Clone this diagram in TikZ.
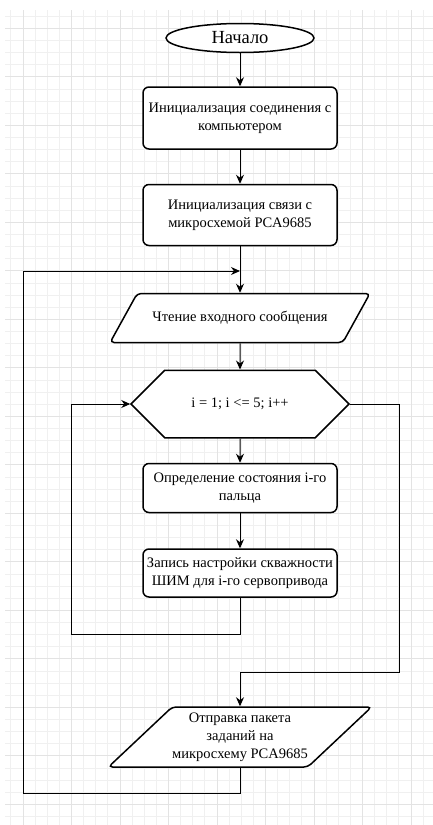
\documentclass[tikz,border=0pt]{standalone}
\usepackage{fontspec}
\setmainfont{Liberation Serif}
\usetikzlibrary{arrows.meta,shapes.geometric,shapes.misc,backgrounds}

\begin{document}
\begin{tikzpicture}[x=1pt,y=-1pt,
  box/.style={draw,line width=1.5pt,rounded corners=6pt,align=center,
              minimum width=194pt,inner xsep=2pt,font=\fontsize{14.5}{18}\selectfont,fill=white},
  io/.style={draw,line width=1.5pt,rounded corners=4pt,align=center,
             trapezium,trapezium left angle=41,trapezium right angle=139,
             trapezium stretches=true,minimum width=260pt,inner xsep=0pt,
             font=\fontsize{14.5}{18}\selectfont,fill=white},
  loopbox/.style={draw,line width=1.5pt,chamfered rectangle,
                  chamfered rectangle xsep=20pt,chamfered rectangle ysep=24.5pt,
                  minimum width=218pt,minimum height=49pt,
                  font=\fontsize{14.5}{18}\selectfont,fill=white},
  term/.style={draw,line width=1.5pt,ellipse,minimum width=148pt,minimum height=29pt,
               inner sep=0pt,font=\fontsize{18.5}{20}\selectfont,fill=white},
  arr/.style={-{Stealth[length=9pt,width=8pt]},line width=1pt},
  minor/.style={gray!12,line width=0.8pt},
  major/.style={gray!22,line width=0.8pt}]
\useasboundingbox (0,0) rectangle (433,825);
% grid
\foreach \i in {0,...,34} \draw[minor] ({10.875+12.125*\i},10) -- ({10.875+12.125*\i},825);
\foreach \j in {0,...,66} \draw[minor] (5,{16.2+12.125*\j}) -- (433,{16.2+12.125*\j});
\foreach \i in {0,...,8} \draw[major] ({23+48.5*\i},10) -- ({23+48.5*\i},825);
\foreach \j in {0,...,16} \draw[major] (5,{28.3+48.5*\j}) -- (433,{28.3+48.5*\j});
% blocks
\node[term] (start) at (240,38) {Начало};
\node[box,minimum height=62pt] (initpc) at (240,118) {Инициализация соединения с\\компьютером};
\node[box,minimum height=61pt] (initpca) at (240,215) {Инициализация связи с\\микросхемой PCA9685};
\node[io,minimum height=49pt] (read) at (240,318) {Чтение входного сообщения};
\node[loopbox] (loop) at (240,404) {i = 1; i <= 5; i++};
\node[box,minimum height=49pt] (state) at (240,488) {Определение состояния i-го\\пальца};
\node[box,minimum height=48pt] (duty) at (240,573) {Запись настройки скважности\\ШИМ для i-го сервопривода};
\node[io,minimum height=60pt] (send) at (240,737) {Отправка пакета\\заданий на\\микросхему PCA9685};
\coordinate (merge) at (240,271);
\coordinate (innerbl) at (71,634);
\coordinate (outerr) at (399,672);
\coordinate (outerbl) at (23,793);
% connectors
\draw[arr] (start) -- (initpc);
\draw[arr] (initpc) -- (initpca);
\draw[arr] (initpca) -- (read);
\draw[arr] (read) -- (loop);
\draw[arr] (loop) -- (state);
\draw[arr] (state) -- (duty);
\draw[arr] (duty.south) |- (innerbl) |- (loop.west);
\draw[arr] (loop.east) -| (outerr) -| (send.north);
\draw[arr] (send.south) |- (outerbl) |- (merge);
\end{tikzpicture}
\end{document}
